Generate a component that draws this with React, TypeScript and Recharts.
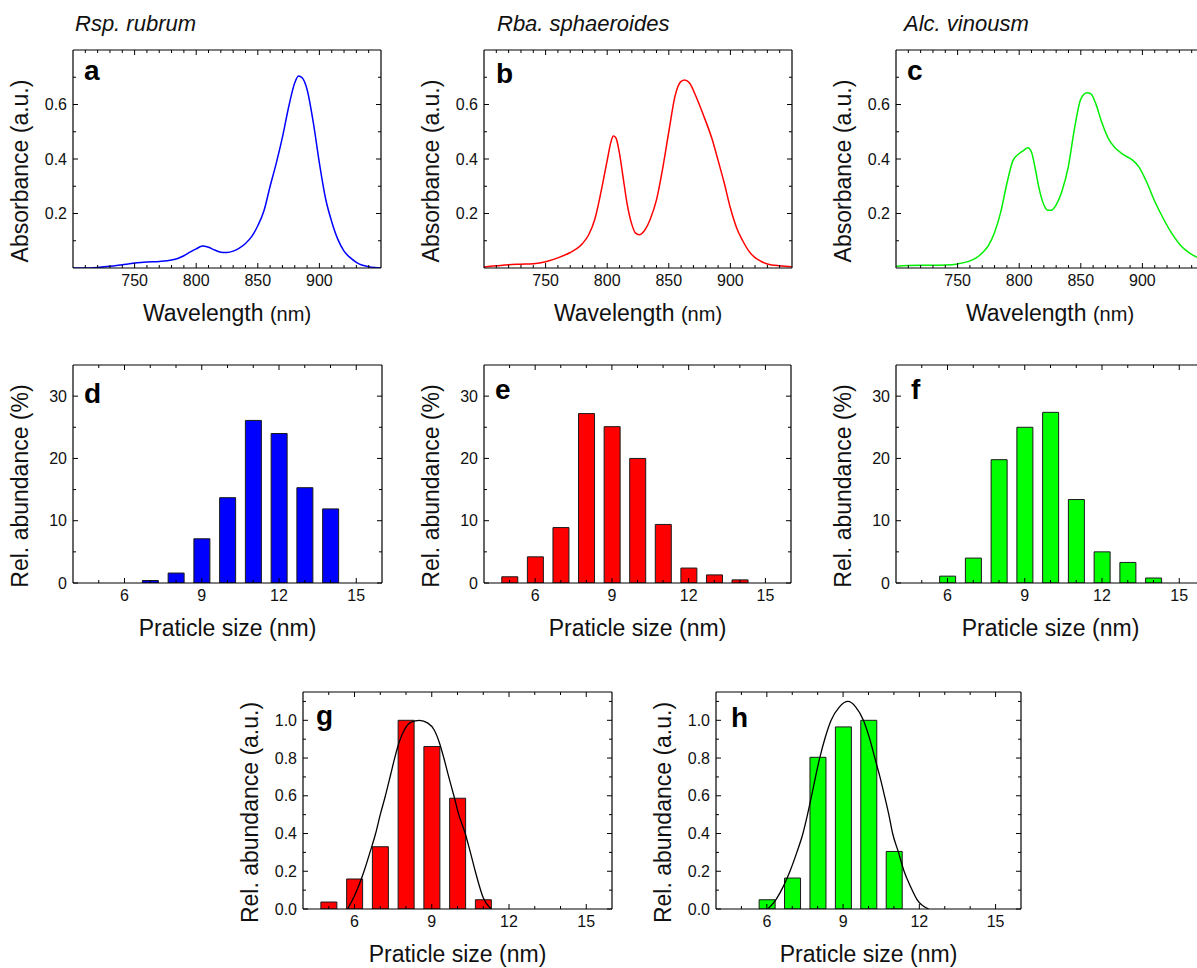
import type { ReactNode } from 'react';
import { ComposedChart, Line, Bar, XAxis, YAxis } from 'recharts';

const FONT = '"Liberation Sans", Arial, Helvetica, sans-serif';
const INK = '#111';

// ---- a: Rsp. rubrum absorption ----
const rubrumWl = [700, 710, 720, 730, 740, 750, 760, 770, 780, 785, 790, 795, 800, 805, 810, 815, 820, 825, 830, 835, 840, 845, 850, 855, 860, 865, 870, 875, 880, 883, 886, 890, 895, 900, 905, 910, 915, 920, 925, 930, 935, 940, 945, 950];
const rubrumAbs = [0, 0, 0.002, 0.006, 0.012, 0.018, 0.022, 0.024, 0.029, 0.035, 0.045, 0.058, 0.07, 0.081, 0.076, 0.066, 0.058, 0.057, 0.062, 0.073, 0.09, 0.115, 0.155, 0.21, 0.3, 0.385, 0.48, 0.59, 0.68, 0.705, 0.698, 0.655, 0.535, 0.385, 0.255, 0.17, 0.105, 0.062, 0.038, 0.021, 0.01, 0.005, 0.002, 0];

// ---- b: Rba. sphaeroides absorption ----
const rbaWl = [700, 710, 720, 730, 740, 750, 760, 770, 775, 780, 785, 790, 795, 800, 803, 805, 807, 810, 813, 816, 820, 823, 826, 830, 835, 840, 845, 850, 855, 860, 863, 867, 872, 878, 885, 890, 895, 900, 905, 910, 915, 920, 925, 930, 940, 950];
const rbaAbs = [0.004, 0.008, 0.012, 0.014, 0.016, 0.023, 0.037, 0.057, 0.07, 0.09, 0.122, 0.18, 0.28, 0.395, 0.462, 0.484, 0.478, 0.42, 0.33, 0.24, 0.16, 0.128, 0.122, 0.136, 0.18, 0.25, 0.365, 0.5, 0.63, 0.685, 0.69, 0.678, 0.63, 0.562, 0.475, 0.395, 0.312, 0.22, 0.148, 0.1, 0.062, 0.038, 0.024, 0.015, 0.008, 0.005];

// ---- c: Alc. vinosum absorption ----
const alcWl = [700, 710, 720, 730, 740, 750, 760, 765, 770, 775, 780, 785, 790, 795, 800, 804, 807, 810, 813, 816, 820, 823, 826, 830, 835, 840, 845, 850, 855, 858, 862, 867, 873, 878, 885, 892, 897, 903, 910, 916, 924, 932, 939, 945, 950];
const alcAbs = [0.006, 0.009, 0.01, 0.01, 0.011, 0.015, 0.026, 0.037, 0.055, 0.082, 0.13, 0.205, 0.31, 0.395, 0.42, 0.433, 0.441, 0.425, 0.365, 0.295, 0.232, 0.212, 0.212, 0.232, 0.286, 0.375, 0.515, 0.62, 0.643, 0.64, 0.605, 0.535, 0.47, 0.44, 0.415, 0.396, 0.372, 0.32, 0.245, 0.19, 0.126, 0.078, 0.053, 0.038, 0.03];

// ---- d-f: size histograms (%) ----
const sizeD = [7, 8, 9, 10, 11, 12, 13, 14];
const abundD = [0.4, 1.6, 7.1, 13.7, 26.1, 24.0, 15.3, 11.9];
const sizeE = [5, 6, 7, 8, 9, 10, 11, 12, 13, 14];
const abundE = [1.0, 4.2, 8.9, 27.2, 25.1, 20.0, 9.4, 2.4, 1.3, 0.5];
const sizeF = [6, 7, 8, 9, 10, 11, 12, 13, 14];
const abundF = [1.1, 4.0, 19.8, 25.0, 27.4, 13.4, 5.0, 3.3, 0.8];

// ---- g-h: normalised histograms + fits ----
const sizeG = [5, 6, 7, 8, 9, 10, 11];
const abundG = [0.037, 0.159, 0.33, 1.0, 0.861, 0.587, 0.049];
const fitGx = [5.73, 6.0, 6.37, 6.6, 6.82, 7.0, 7.2, 7.4, 7.56, 7.75, 7.94, 8.2, 8.52, 8.85, 9.09, 9.3, 9.47, 9.66, 9.86, 10.05, 10.3, 10.5, 10.69, 11.0, 11.3];
const fitGy = [0, 0.07, 0.2, 0.3, 0.4, 0.5, 0.6, 0.71, 0.8, 0.89, 0.95, 0.99, 1.0, 0.985, 0.95, 0.88, 0.8, 0.7, 0.6, 0.5, 0.4, 0.3, 0.2, 0.06, 0];
const sizeH = [6, 7, 8, 9, 10, 11];
const abundH = [0.049, 0.164, 0.804, 0.965, 1.0, 0.305];
const fitHx = [6.04, 6.36, 6.65, 6.91, 7.18, 7.42, 7.6, 7.76, 8.08, 8.3, 8.53, 8.85, 9.19, 9.5, 9.8, 10.05, 10.25, 10.45, 10.63, 10.8, 10.95, 11.18, 11.4, 11.65, 11.91, 12.37];
const fitHy = [0, 0.05, 0.12, 0.2, 0.3, 0.4, 0.5, 0.6, 0.8, 0.91, 1.0, 1.07, 1.1, 1.07, 1.0, 0.9, 0.8, 0.7, 0.6, 0.5, 0.4, 0.3, 0.2, 0.12, 0.05, 0];

// ---- ticks ----
const wlMajor = [750, 800, 850, 900];
const wlMinor = [710, 720, 730, 740, 760, 770, 780, 790, 810, 820, 830, 840, 860, 870, 880, 890, 910, 920, 930, 940];
const absMajor = [0.2, 0.4, 0.6];
const absMinor = [0.1, 0.3, 0.5, 0.7];
const sizeMajor = [6, 9, 12, 15];
const sizeMinor = [5, 7, 8, 10, 11, 13, 14];
const pctMajor = [0, 10, 20, 30];
const pctMinor = [5, 15, 25];
const auMajor = [0, 0.2, 0.4, 0.6, 0.8, 1.0];
const auMinor = [0.1, 0.3, 0.5, 0.7, 0.9, 1.1];

const pairs = (xs: number[], ys: number[], key: string) => xs.map((x, i) => ({ x, [key]: ys[i] }));

type Side = 'bottom' | 'top' | 'left' | 'right';

const tickRenderer = (side: Side, major: number[], fmt?: (v: number) => string) =>
  function TickMark(props: any) {
    const { x, y, payload } = props;
    const v = Number(payload?.value);
    const isMajor = major.some((m) => Math.abs(m - v) < 1e-6);
    const len = isMajor ? 5 : 3;
    const x2 = side === 'left' ? x + len : side === 'right' ? x - len : x;
    const y2 = side === 'bottom' ? y - len : side === 'top' ? y + len : y;
    return (
      <g>
        <line x1={x} y1={y} x2={x2} y2={y2} stroke="#000" strokeWidth={1} />
        {fmt && isMajor && side === 'bottom' && (
          <text x={x} y={y + 18} textAnchor="middle" fontSize={16} fontFamily={FONT} fill={INK}>
            {fmt(v)}
          </text>
        )}
        {fmt && isMajor && side === 'left' && (
          <text x={x - 6} y={y} dy="0.35em" textAnchor="end" fontSize={16} fontFamily={FONT} fill={INK}>
            {fmt(v)}
          </text>
        )}
      </g>
    );
  };

const AXIS = { stroke: '#000', strokeWidth: 1.2 };
// outer room round each plot; each axis itself takes 1px
const ML = 80;
const MR = 10;
const MT = 10;
const MB = 70;

interface PanelProps {
  left: number;
  top: number;
  w: number;
  h: number;
  data: any[];
  xDomain: [number, number];
  xMajor: number[];
  xMinor: number[];
  yDomain: [number, number];
  yMajor: number[];
  yMinor: number[];
  yFmt: (v: number) => string;
  xTitle: ReactNode;
  yTitle: string;
  letter: string;
  letterDx: number;
  letterDy: number;
  children: ReactNode;
}

function Panel(p: PanelProps) {
  const xt = [...p.xMinor, ...p.xMajor].sort((a, b) => a - b);
  const yt = [...p.yMinor, ...p.yMajor].sort((a, b) => a - b);
  const common = { type: 'number' as const, allowDataOverflow: true, interval: 0 as const, tickSize: 0, tickMargin: 0, tickLine: false, axisLine: AXIS };
  return (
    <div style={{ position: 'absolute', left: p.left - ML, top: p.top - MT }}>
      <ComposedChart
        width={p.w + ML + MR}
        height={p.h + MT + MB}
        data={p.data}
        margin={{ top: MT - 1, right: MR - 1, bottom: MB - 1, left: ML - 1 }}
      >
        <XAxis
          {...common}
          dataKey="x"
          domain={p.xDomain}
          ticks={xt}
          height={1}
          tick={tickRenderer('bottom', p.xMajor, (v) => String(v))}
          label={(lp: any) => {
            const vb = lp.viewBox || {};
            return (
              <text x={vb.x + vb.width / 2} y={vb.y + 53} textAnchor="middle" fontSize={23} fontFamily={FONT} fill={INK}>
                {p.xTitle}
              </text>
            );
          }}
        />
        <XAxis
          {...common}
          xAxisId="top"
          orientation="top"
          dataKey="x"
          domain={p.xDomain}
          ticks={xt}
          height={1}
          tick={tickRenderer('top', p.xMajor)}
          label={(lp: any) => {
            const vb = lp.viewBox || {};
            return (
              <text x={vb.x + p.letterDx} y={vb.y + 1 + p.letterDy} fontSize={28} fontWeight="bold" fontFamily={FONT} fill="#000">
                {p.letter}
              </text>
            );
          }}
        />
        <YAxis
          {...common}
          domain={p.yDomain}
          ticks={yt}
          width={1}
          tick={tickRenderer('left', p.yMajor, p.yFmt)}
          label={(lp: any) => {
            const vb = lp.viewBox || {};
            const cx = vb.x + 1 - 45;
            const cy = vb.y + vb.height / 2 + 12;
            return (
              <text x={cx} y={cy} transform={`rotate(-90, ${cx}, ${cy})`} textAnchor="middle" fontSize={23} fontFamily={FONT} fill={INK}>
                {p.yTitle}
              </text>
            );
          }}
        />
        <YAxis
          {...common}
          yAxisId="right"
          orientation="right"
          domain={p.yDomain}
          ticks={yt}
          width={1}
          tick={tickRenderer('right', p.yMajor)}
        />
        {p.children}
      </ComposedChart>
    </div>
  );
}

const wavelengthTitle = (
  <>
    Wavelength <tspan fontSize={20}>(nm)</tspan>
  </>
);

function SpectrumPanel(props: { left: number; wl: number[]; abs: number[]; color: string; letter: string; letterDx: number; letterDy: number }) {
  return (
    <Panel
      left={props.left}
      top={50}
      w={308}
      h={218}
      data={pairs(props.wl, props.abs, 'y')}
      xDomain={[700, 950]}
      xMajor={wlMajor}
      xMinor={wlMinor}
      yDomain={[0, 0.8]}
      yMajor={absMajor}
      yMinor={absMinor}
      yFmt={(v) => v.toFixed(1)}
      xTitle={wavelengthTitle}
      yTitle="Absorbance (a.u.)"
      letter={props.letter}
      letterDx={props.letterDx}
      letterDy={props.letterDy}
    >
      <Line type="monotone" dataKey="y" stroke={props.color} strokeWidth={1.5} dot={false} isAnimationActive={false} />
    </Panel>
  );
}

function HistPanel(props: {
  left: number;
  top: number;
  w: number;
  h: number;
  sizes: number[];
  values: number[];
  color: string;
  normalised?: boolean;
  fitX?: number[];
  fitY?: number[];
  letter: string;
  letterDx: number;
  letterDy: number;
}) {
  const norm = !!props.normalised;
  return (
    <Panel
      left={props.left}
      top={props.top}
      w={props.w}
      h={props.h}
      data={pairs(props.sizes, props.values, 'v')}
      xDomain={[4, 16]}
      xMajor={sizeMajor}
      xMinor={sizeMinor}
      yDomain={norm ? [0, 1.15] : [0, 35]}
      yMajor={norm ? auMajor : pctMajor}
      yMinor={norm ? auMinor : pctMinor}
      yFmt={norm ? (v) => v.toFixed(1) : (v) => String(v)}
      xTitle="Praticle size (nm)"
      yTitle={norm ? 'Rel. abundance (a.u.)' : 'Rel. abundance (%)'}
      letter={props.letter}
      letterDx={props.letterDx}
      letterDy={props.letterDy}
    >
      <Bar dataKey="v" barSize={16} fill={props.color} stroke="#1a1a1a" strokeWidth={1} isAnimationActive={false} />
      {props.fitX && props.fitY && (
        // the fit sits on the top axis (same domain) so it does not narrow the bars
        <Line
          xAxisId="top"
          data={pairs(props.fitX, props.fitY, 'f')}
          type="monotone"
          dataKey="f"
          stroke="#000"
          strokeWidth={1.3}
          dot={false}
          isAnimationActive={false}
        />
      )}
    </Panel>
  );
}

function Title({ left, text }: { left: number; text: string }) {
  return (
    <div style={{ position: 'absolute', left, top: 11, fontSize: 22, fontStyle: 'italic', fontFamily: FONT, color: INK, whiteSpace: 'nowrap' }}>
      {text}
    </div>
  );
}

const BLUE = '#0000ff';
const RED = '#ff0000';
const GREEN = '#00ff00';

export default function App() {
  return (
    <div style={{ position: 'absolute', left: 0, top: 0, width: 1197, height: 968, overflow: 'hidden', background: '#fff', fontFamily: FONT }}>
      <Title left={75} text="Rsp. rubrum" />
      <Title left={497} text="Rba. sphaeroides" />
      <Title left={904} text="Alc. vinousm" />

      <SpectrumPanel left={73} wl={rubrumWl} abs={rubrumAbs} color={BLUE} letter="a" letterDx={11} letterDy={30} />
      <SpectrumPanel left={484} wl={rbaWl} abs={rbaAbs} color={RED} letter="b" letterDx={12} letterDy={33} />
      <SpectrumPanel left={896} wl={alcWl} abs={alcAbs} color="#00ee00" letter="c" letterDx={11} letterDy={30} />

      <HistPanel left={73} top={365} w={309} h={218} sizes={sizeD} values={abundD} color={BLUE} letter="d" letterDx={11} letterDy={38} />
      <HistPanel left={484} top={365} w={307} h={218} sizes={sizeE} values={abundE} color={RED} letter="e" letterDx={11} letterDy={34} />
      <HistPanel left={896} top={365} w={309} h={218} sizes={sizeF} values={abundF} color={GREEN} letter="f" letterDx={15} letterDy={34} />

      <HistPanel left={303} top={692} w={309} h={217} sizes={sizeG} values={abundG} color={RED} normalised fitX={fitGx} fitY={fitGy} letter="g" letterDx={13} letterDy={33} />
      <HistPanel left={716} top={692} w={305} h={217} sizes={sizeH} values={abundH} color={GREEN} normalised fitX={fitHx} fitY={fitHy} letter="h" letterDx={15} letterDy={35} />
    </div>
  );
}
